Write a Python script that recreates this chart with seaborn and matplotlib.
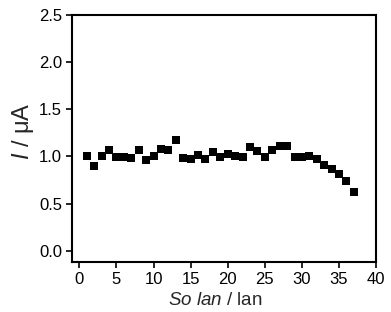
import matplotlib
matplotlib.use("Agg")
import matplotlib.pyplot as plt
import seaborn as sns
import pandas as pd

cycles = list(range(1, 38))
current = [1.00, 0.90, 1.00, 1.07, 0.99, 0.99, 0.98, 1.07, 0.96, 1.00,
           1.08, 1.07, 1.17, 0.98, 0.97, 1.02, 0.97, 1.05, 0.99, 1.03,
           1.00, 0.99, 1.10, 1.06, 0.99, 1.07, 1.11, 1.11, 0.99, 0.99,
           1.01, 0.97, 0.91, 0.87, 0.81, 0.74, 0.62]
xticks = [0, 5, 10, 15, 20, 25, 30, 35, 40]
yticks = [0.0, 0.5, 1.0, 1.5, 2.0, 2.5]

sns.set_style("ticks")
plt.rcParams['font.family'] = ['Liberation Sans', 'DejaVu Sans']
plt.rcParams['mathtext.fontset'] = 'custom'
plt.rcParams['mathtext.it'] = 'Liberation Sans:italic'
plt.rcParams['mathtext.rm'] = 'Liberation Sans'

df = pd.DataFrame({"cycle": cycles, "current": current})

fig, ax = plt.subplots(figsize=(3.91, 3.12), dpi=100)
fig.subplots_adjust(left=0.184, right=0.962, top=0.952, bottom=0.160)
sns.scatterplot(data=df, x="cycle", y="current", ax=ax, marker="s", s=28,
                color="black", edgecolor="black", linewidth=0)
ax.set_xlim(-1, 40)
ax.set_ylim(-0.12, 2.5)
ax.set_xticks(xticks)
ax.set_yticks(yticks)
ax.set_yticklabels([f"{v:.1f}" for v in yticks])
ax.tick_params(direction="out", length=4, width=1.2, labelsize=12, colors="black",
               top=False, right=False, pad=3)
for s in ax.spines.values():
    s.set_linewidth(1.5)
    s.set_color("black")
    s.set_visible(True)
ax.set_xlabel(r"$\it{So\ lan}$ / lan", fontsize=13.5, labelpad=4)
ax.set_ylabel(r"$\it{I}$ / μA", fontsize=17, labelpad=2)
ax.xaxis.label.set_x(0.47)
ax.yaxis.label.set_y(0.53)
fig.savefig("out.png", dpi=100)
